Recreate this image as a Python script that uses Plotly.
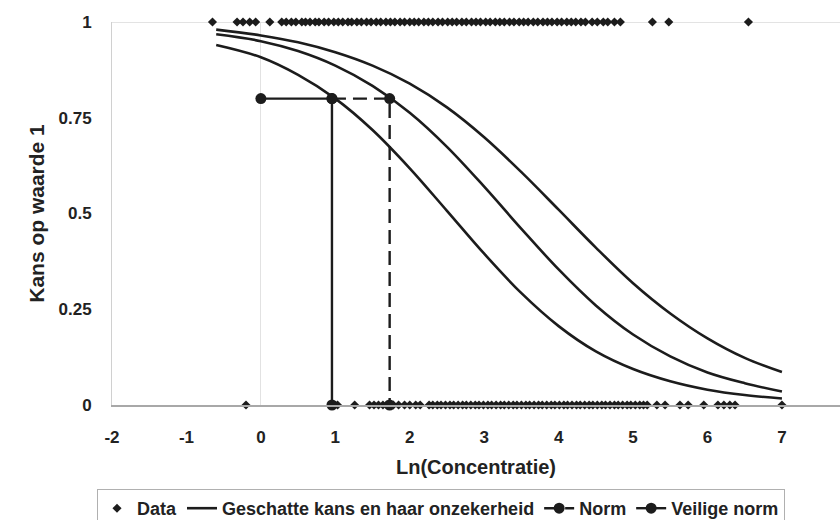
import plotly.graph_objects as go

# ---- data ----
data_one_x = [-0.65, -0.32, -0.24, -0.15, -0.07, 0.12, 0.28, 0.34, 0.41, 0.47, 0.55, 0.60, 0.66,
              0.73, 0.78, 0.85, 0.91, 0.98, 1.04, 1.10, 1.17, 1.22, 1.29, 1.35, 1.42, 1.48, 1.55,
              1.61, 1.68, 1.74, 1.80, 1.87, 1.93, 2.00, 2.06, 2.12, 2.19, 2.25, 2.31, 2.38, 2.44,
              2.51, 2.57, 2.63, 2.70, 2.76, 2.83, 2.89, 2.95, 3.02, 3.08, 3.15, 3.21, 3.27, 3.34,
              3.40, 3.47, 3.53, 3.59, 3.66, 3.72, 3.79, 3.85, 3.91, 3.98, 4.04, 4.11, 4.17, 4.23,
              4.30, 4.36, 4.45, 4.52, 4.60, 4.66, 4.75, 4.83, 5.26, 5.48, 6.55]
data_zero_x = [-0.20, 0.95, 1.03, 1.26, 1.46, 1.52, 1.58, 1.64, 1.69, 1.78, 1.85, 1.93, 2.00,
               2.08, 2.14, 2.26, 2.31, 2.37, 2.42, 2.48, 2.54, 2.59, 2.65, 2.71, 2.76, 2.82,
               2.88, 2.93, 2.99, 3.05, 3.10, 3.16, 3.22, 3.27, 3.33, 3.39, 3.44, 3.50, 3.56,
               3.61, 3.67, 3.73, 3.78, 3.84, 3.90, 3.95, 4.01, 4.07, 4.12, 4.18, 4.24, 4.29,
               4.35, 4.41, 4.46, 4.52, 4.58, 4.63, 4.69, 4.75, 4.80, 4.86, 4.92, 4.97, 5.03,
               5.09, 5.14, 5.19, 5.32, 5.43, 5.63, 5.74, 5.95, 6.14, 6.22, 6.30, 6.37, 7.00]

curve_x = [-0.6, 0, 0.5, 1, 1.5, 2, 2.5, 3, 3.5, 4, 4.5, 5, 5.5, 6, 6.5, 7]
curve_upper = [0.980, 0.965, 0.947, 0.921, 0.886, 0.839, 0.777, 0.699, 0.608, 0.510,
               0.411, 0.318, 0.239, 0.174, 0.123, 0.086]
curve_middle = [0.968, 0.950, 0.924, 0.886, 0.833, 0.763, 0.674, 0.570, 0.460, 0.354,
                0.260, 0.184, 0.127, 0.085, 0.057, 0.035]
curve_lower = [0.940, 0.908, 0.862, 0.800, 0.718, 0.618, 0.507, 0.395, 0.292, 0.206,
               0.140, 0.094, 0.062, 0.040, 0.026, 0.017]

norm_x = [0.955, 1.73, 1.73]
norm_y = [0.8, 0.8, 0.0]
veilig_x = [0.0, 0.955, 0.955]
veilig_y = [0.8, 0.8, 0.0]

x_ticks = [-2, -1, 0, 1, 2, 3, 4, 5, 6, 7]
y_ticks = [0, 0.25, 0.5, 0.75, 1]
y_tick_text = ["0", "0.25", "0.5", "0.75", "1"]

INK = "#1c1c1c"
FONT = "Liberation Sans, Arial, sans-serif"

fig = go.Figure()

fig.add_trace(go.Scatter(
    x=data_one_x + data_zero_x,
    y=[1] * len(data_one_x) + [0] * len(data_zero_x),
    mode="markers", name="Data",
    marker=dict(symbol="diamond", size=7, color=INK),
    cliponaxis=False,
))

for i, cy in enumerate([curve_upper, curve_middle, curve_lower]):
    fig.add_trace(go.Scatter(
        x=curve_x, y=cy, mode="lines", line=dict(color=INK, width=2.6, shape="spline"),
        name="Geschatte kans en haar onzekerheid", legendgroup="curve",
        showlegend=(i == 0), cliponaxis=False,
    ))

fig.add_trace(go.Scatter(
    x=norm_x, y=norm_y, mode="lines+markers", name="Norm",
    line=dict(color=INK, width=2.4, dash="14px,7px"),
    marker=dict(symbol="circle", size=11, color=INK),
    cliponaxis=False,
))
fig.add_trace(go.Scatter(
    x=veilig_x, y=veilig_y, mode="lines+markers", name="Veilige norm",
    line=dict(color=INK, width=2.4),
    marker=dict(symbol="circle", size=11, color=INK),
    cliponaxis=False,
))

# top border line at y = 1
fig.add_shape(type="line", xref="paper", yref="y", x0=0, x1=1, y0=1, y1=1,
              line=dict(color="#c8c8c8", width=1), layer="below")

fig.update_layout(
    width=840, height=520,
    margin=dict(l=112, r=0, t=22, b=115),
    paper_bgcolor="white", plot_bgcolor="white",
    font=dict(family=FONT, size=17, color="#222", weight="bold"),
    showlegend=True,
    legend=dict(
        orientation="h", xref="container", yref="container",
        x=0.525, xanchor="center", y=1 - 489 / 520, yanchor="top",
        bordercolor="#b0b0b0", borderwidth=1, bgcolor="white",
        font=dict(family=FONT, size=18, color="#222", weight="bold"),
        itemwidth=30, tracegroupgap=0,
    ),
    xaxis=dict(
        range=[-2, 7.78], tickvals=x_ticks, ticktext=[str(v) for v in x_ticks],
        showgrid=False, zeroline=True, zerolinecolor="#e2e2e2", zerolinewidth=1,
        showline=True, linecolor="#a8a8a8", linewidth=1.5,
        ticks="", ticklabelstandoff=16,
        tickfont=dict(family=FONT, size=17, color="#222", weight="bold"),
        title=dict(text="Ln(Concentratie)", standoff=14,
                   font=dict(family=FONT, size=20, color="#222", weight="bold")),
    ),
    yaxis=dict(
        range=[0, 1], tickvals=y_ticks, ticktext=y_tick_text,
        showgrid=False, zeroline=False,
        showline=True, linecolor="#d0d0d0", linewidth=1,
        ticks="", ticklabelstandoff=16,
        tickfont=dict(family=FONT, size=17, color="#222", weight="bold"),
        title=dict(text="Kans op waarde 1", standoff=8,
                   font=dict(family=FONT, size=21, color="#222", weight="bold")),
    ),
)

fig.write_html("out.html")
